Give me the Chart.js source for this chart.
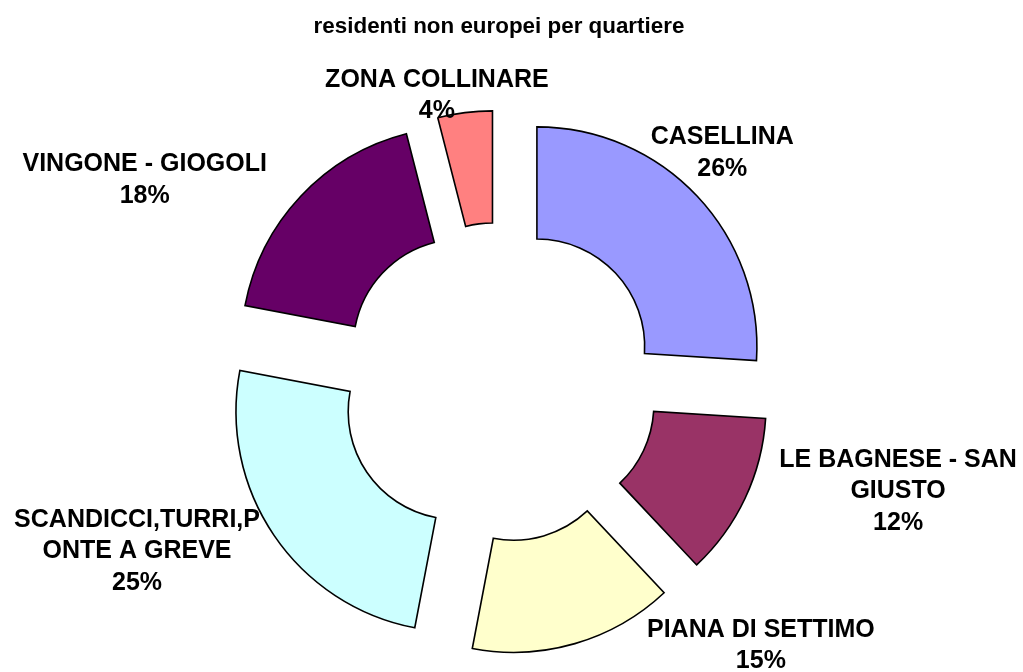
<!DOCTYPE html>
<html>
<head>
<meta charset="utf-8">
<script src="https://cdn.jsdelivr.net/npm/chart.js@4.4.1/dist/chart.umd.min.js"></script>
<style>
  html, body { margin: 0; padding: 0; background: #fff; }
  #wrap { width: 1023px; height: 672px; }
</style>
</head>
<body>
<div id="wrap"><canvas id="chartQuartieri" width="1023" height="672"></canvas></div>
<script>
  // dati: quota di residenti non europei per quartiere (%)
  const quartieri = [
    ['CASELLINA'],
    ['LE BAGNESE - SAN', 'GIUSTO'],
    ['PIANA DI SETTIMO'],
    ['SCANDICCI,TURRI,P', 'ONTE A GREVE'],
    ['VINGONE - GIOGOLI'],
    ['ZONA COLLINARE']
  ];
  const percentuali = [26, 12, 15, 25, 18, 4];
  const colori = ['#9999FF', '#993366', '#FFFFCC', '#CCFFFF', '#660066', '#FF8080'];

  const FONT = '"Liberation Sans", Arial, sans-serif';
  const ESPLOSIONE = 52;
  // spostamento etichette rispetto al bordo esterno della fetta
  const spostaEtichette = [[25, -43], [153, -7], [186, 2], [-137, 16], [-156, -16], [-28, -17]];

  // =========================
  // FETTE STACCATE (senza allargare il raggio come fa "offset")
  // =========================
  const fetteEsplose = {
    id: 'fetteEsplose',
    beforeDatasetDraw(chart, args) {
      const ctx = chart.ctx;
      args.meta.data.forEach(arc => {
        const mid = (arc.startAngle + arc.endAngle) / 2;
        ctx.save();
        ctx.translate(Math.cos(mid) * ESPLOSIONE, Math.sin(mid) * ESPLOSIONE);
        arc.draw(ctx);
        ctx.restore();
      });
      return false;
    }
  };

  // =========================
  // ETICHETTE (nome + percentuale)
  // =========================
  const etichette = {
    id: 'etichette',
    afterDatasetsDraw(chart) {
      const ctx = chart.ctx;
      const meta = chart.getDatasetMeta(0);
      ctx.save();
      ctx.font = 'bold 25px ' + FONT;
      ctx.fillStyle = '#000';
      ctx.textAlign = 'center';
      ctx.textBaseline = 'middle';
      meta.data.forEach((arc, i) => {
        const mid = (arc.startAngle + arc.endAngle) / 2;
        const r = arc.outerRadius + ESPLOSIONE;
        const x = arc.x + Math.cos(mid) * r + spostaEtichette[i][0];
        const y = arc.y + Math.sin(mid) * r + spostaEtichette[i][1];
        const righe = quartieri[i].concat(percentuali[i] + '%');
        righe.forEach((t, k) => {
          ctx.fillText(t, x, y + (k - (righe.length - 1) / 2) * 31.5);
        });
      });
      ctx.restore();
    }
  };

  new Chart(document.getElementById('chartQuartieri'), {
    type: 'doughnut',
    data: {
      labels: quartieri.map(q => q.join('')),
      datasets: [{
        data: percentuali,
        backgroundColor: colori,
        borderColor: '#000',
        borderWidth: 1.6,
        borderJoinStyle: 'miter'
      }]
    },
    options: {
      responsive: false,
      animation: false,
      events: [],
      cutout: '49%',
      radius: 220,
      layout: { padding: { left: 0, right: 25, top: 0, bottom: 0 } },
      plugins: {
        legend: { display: false },
        tooltip: { enabled: false },
        title: {
          display: true,
          text: 'residenti non europei per quartiere',
          color: '#000',
          font: { family: FONT, size: 22.4, weight: 'bold' },
          padding: { top: 13, bottom: 53 }
        }
      }
    },
    plugins: [fetteEsplose, etichette]
  });
</script>
</body>
</html>
